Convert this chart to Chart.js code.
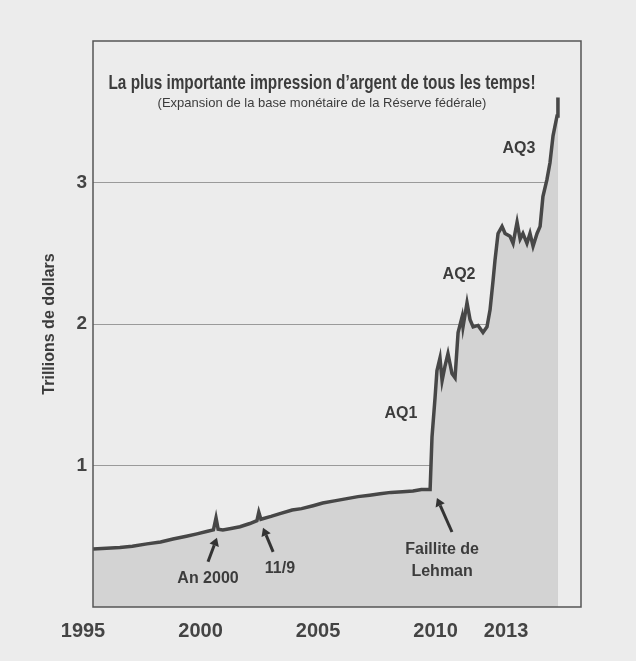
<!DOCTYPE html>
<html>
<head>
<meta charset="utf-8">
<script src="https://cdn.jsdelivr.net/npm/chart.js@4/dist/chart.umd.min.js"></script>
<style>
  body { margin: 0; background: #ececec; }
  canvas { display: block; }
</style>
</head>
<body>
<canvas id="chart" width="636" height="661"></canvas>
<script>
// years, values in trillions of dollars
const years = [
  1995.43, 1996.0, 1996.57, 1997.1, 1997.72, 1998.3, 1998.83, 1999.4, 1999.85, 2000.3,
  2000.55, 2000.66, 2000.75, 2000.95, 2001.3, 2001.68, 2002.1, 2002.4, 2002.48, 2002.57,
  2003.0, 2003.38, 2003.9, 2004.3, 2004.79, 2005.2, 2005.7, 2006.23, 2006.7, 2007.2,
  2007.64, 2008.1, 2008.6, 2009.04, 2009.4, 2009.77, 2009.85, 2009.98, 2010.06, 2010.19,
  2010.28, 2010.4, 2010.53, 2010.7, 2010.83, 2010.96, 2011.13, 2011.17, 2011.34, 2011.47,
  2011.6, 2011.81, 2012.02, 2012.19, 2012.32, 2012.45, 2012.53, 2012.66, 2012.83, 2012.96,
  2013.17, 2013.3, 2013.47, 2013.6, 2013.72, 2013.89, 2014.02, 2014.15, 2014.32, 2014.45,
  2014.57, 2014.74, 2014.87, 2015.0, 2015.17, 2015.21
];
const base = [
  0.41, 0.415, 0.42, 0.43, 0.446, 0.46, 0.48, 0.5, 0.517, 0.535,
  0.545, 0.63, 0.55, 0.545, 0.555, 0.567, 0.59, 0.61, 0.67, 0.62,
  0.64, 0.66, 0.685, 0.695, 0.716, 0.735, 0.75, 0.766, 0.78, 0.79,
  0.8, 0.81, 0.815, 0.82, 0.83, 0.83, 1.2, 1.48, 1.67, 1.76,
  1.6, 1.7, 1.79, 1.65, 1.62, 1.94, 2.05, 1.98, 2.15, 2.03,
  1.98, 1.99, 1.94, 1.98, 2.1, 2.31, 2.45, 2.64, 2.69, 2.64,
  2.62, 2.57, 2.72, 2.6, 2.64, 2.57, 2.64, 2.55, 2.64, 2.69,
  2.9, 3.02, 3.14, 3.33, 3.47, 3.6
];
const xTicks = [1995, 2000, 2005, 2010, 2013];
const yTicks = [1, 2, 3];

const titleText = 'La plus importante impression d\u2019argent de tous les temps!';
const subtitleText = '(Expansion de la base monétaire de la Réserve fédérale)';

// labels and arrows, placed in data units
const notes = [
  { text: 'AQ1', x: 2008.53, y: 1.37 },
  { text: 'AQ2', x: 2011.0, y: 2.35 },
  { text: 'AQ3', x: 2013.55, y: 3.24 },
  { text: 'An 2000', x: 2000.32, y: 0.2 },
  { text: '11/9', x: 2003.38, y: 0.27 },
  { text: 'Faillite de', x: 2010.28, y: 0.405 },
  { text: 'Lehman', x: 2010.28, y: 0.25 }
];
const arrows = [
  { from: [2000.32, 0.32], to: [2000.7, 0.49] },
  { from: [2003.09, 0.39], to: [2002.66, 0.56] },
  { from: [2010.7, 0.53], to: [2010.06, 0.77] }
];

const ink = '#3c3c3c';
const paper = '#ececec';

// blank strip right of the last point, so grid lines stop at the fill
const stripPlugin = {
  id: 'strip',
  beforeDatasetsDraw(chart) {
    const { ctx, chartArea: a, scales } = chart;
    const xEnd = scales.x.getPixelForValue(years[years.length - 1]);
    ctx.save();
    ctx.fillStyle = paper;
    ctx.fillRect(xEnd, a.top, a.right - xEnd, a.bottom - a.top);
    ctx.strokeStyle = '#9a9a9a';
    ctx.lineWidth = 1;
    ctx.beginPath();
    ctx.moveTo(xEnd - 1, scales.y.getPixelForValue(base[base.length - 1]));
    ctx.lineTo(xEnd - 1, a.bottom);
    ctx.stroke();
    ctx.restore();
  }
};

const framePlugin = {
  id: 'frame',
  afterDraw(chart) {
    const { ctx, chartArea: a } = chart;
    ctx.save();
    ctx.strokeStyle = '#555';
    ctx.lineWidth = 1.5;
    ctx.strokeRect(a.left, a.top, a.right - a.left, a.bottom - a.top);
    ctx.restore();
  }
};

const textPlugin = {
  id: 'notes',
  afterDatasetsDraw(chart) {
    const { ctx, chartArea: a, scales } = chart;
    const cx = (a.left + a.right) / 2 - 15;
    ctx.save();
    ctx.fillStyle = ink;
    ctx.textAlign = 'center';
    ctx.textBaseline = 'middle';

    // condensed bold title, squeezed to the printed width
    ctx.font = 'bold 21px "Liberation Sans", Arial, sans-serif';
    const k = 427 / ctx.measureText(titleText).width;
    ctx.save();
    ctx.translate(cx, a.top + 42);
    ctx.scale(k, 1);
    ctx.fillText(titleText, 0, 0);
    ctx.restore();

    ctx.font = '13px "Liberation Sans", Arial, sans-serif';
    ctx.fillText(subtitleText, cx, a.top + 62);

    ctx.font = 'bold 16px "Liberation Sans", Arial, sans-serif';
    notes.forEach(n => {
      ctx.fillText(n.text, scales.x.getPixelForValue(n.x), scales.y.getPixelForValue(n.y));
    });

    ctx.strokeStyle = '#333';
    ctx.fillStyle = '#333';
    ctx.lineWidth = 3;
    arrows.forEach(ar => {
      const x1 = scales.x.getPixelForValue(ar.from[0]), y1 = scales.y.getPixelForValue(ar.from[1]);
      const x2 = scales.x.getPixelForValue(ar.to[0]), y2 = scales.y.getPixelForValue(ar.to[1]);
      const ang = Math.atan2(y2 - y1, x2 - x1);
      const hx = x2 - 8 * Math.cos(ang), hy = y2 - 8 * Math.sin(ang);
      ctx.beginPath();
      ctx.moveTo(x1, y1);
      ctx.lineTo(hx, hy);
      ctx.stroke();
      ctx.beginPath();
      ctx.moveTo(x2, y2);
      ctx.lineTo(hx + 5 * Math.sin(ang), hy - 5 * Math.cos(ang));
      ctx.lineTo(hx - 5 * Math.sin(ang), hy + 5 * Math.cos(ang));
      ctx.closePath();
      ctx.fill();
    });
    ctx.restore();
  }
};

new Chart(document.getElementById('chart'), {
  type: 'line',
  data: {
    datasets: [{
      data: years.map((y, i) => ({ x: y, y: base[i] })),
      borderColor: '#474747',
      borderWidth: 3.5,
      backgroundColor: '#d3d3d3',
      fill: 'origin',
      pointRadius: 0,
      tension: 0
    }]
  },
  options: {
    responsive: false,
    animation: false,
    layout: { padding: { top: 41, right: 55, left: 0, bottom: 0 } },
    plugins: { legend: { display: false }, tooltip: { enabled: false } },
    scales: {
      x: {
        type: 'linear',
        min: 1995.4255,
        max: 2016.19,
        afterBuildTicks: s => { s.ticks = xTicks.map(v => ({ value: v })); },
        afterFit: s => { s.height = 54; },
        ticks: {
          autoSkip: false,
          maxRotation: 0,
          padding: 4,
          color: '#444',
          font: { family: '"Liberation Sans", Arial, sans-serif', size: 20, weight: 'bold' },
          callback: v => String(v)
        },
        grid: { display: false },
        border: { display: false }
      },
      y: {
        min: 0,
        max: 4,
        afterBuildTicks: s => { s.ticks = yTicks.map(v => ({ value: v })); },
        afterFit: s => { s.width = 93; },
        ticks: {
          padding: 6,
          color: '#444',
          font: { family: '"Liberation Sans", Arial, sans-serif', size: 19, weight: 'bold' }
        },
        grid: { color: '#9a9a9a', lineWidth: 1, drawTicks: false },
        border: { display: false },
        title: {
          display: true,
          text: 'Trillions de dollars',
          color: ink,
          padding: { top: 40, bottom: 0 },
          font: { family: '"Liberation Sans", Arial, sans-serif', size: 16, weight: 'bold' }
        }
      }
    }
  },
  plugins: [stripPlugin, textPlugin, framePlugin]
});
</script>
</body>
</html>
